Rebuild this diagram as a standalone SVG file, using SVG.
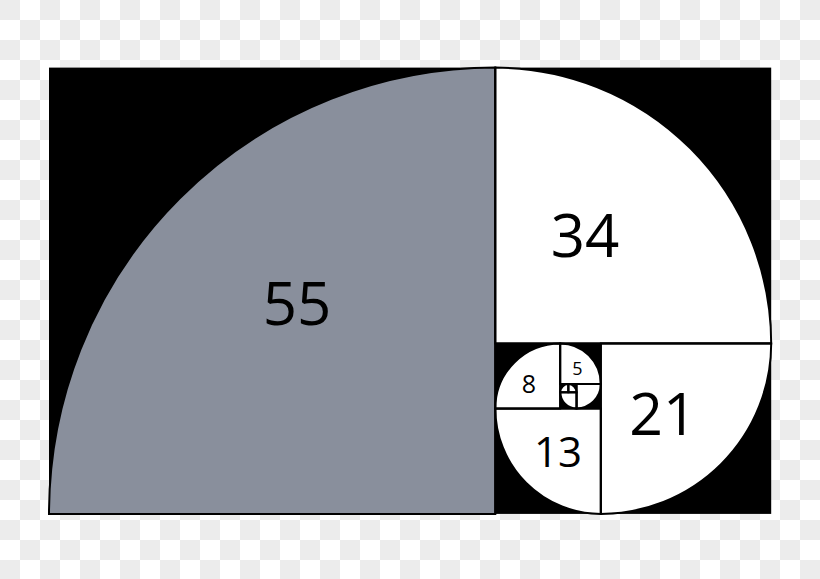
<svg xmlns="http://www.w3.org/2000/svg" width="820" height="579" viewBox="0 0 820 579">
  <defs>
    <pattern id="cb" width="40" height="40" patternUnits="userSpaceOnUse">
      <rect width="40" height="40" fill="#ffffff"/>
      <rect width="20" height="20" fill="#ececec"/>
      <rect x="20" y="20" width="20" height="20" fill="#ececec"/>
    </pattern>
  </defs>
  <style>
    .sec { stroke: #000; stroke-width: 2; }
    .w { fill: #ffffff; }
    .g { fill: #898f9c; }
    .ln { stroke: #000; stroke-width: 2; fill: none; }
    .lbl { font-family: "Open Sans", "Noto Sans", "Liberation Sans", sans-serif; fill: #000; text-anchor: middle; }
  </style>
  <rect width="820" height="579" fill="url(#cb)"/>
  <rect id="frame" x="49" y="67.6" width="722.2" height="446.3" fill="#000"/>

  <g id="sq55">
    <path class="sec g" d="M495.3,513.9 L49,513.9 A446.3,446.3 0 0 1 495.3,67.6 Z"/>
    <text class="lbl" x="297" y="325" font-size="60">55</text>
  </g>
  <g id="sq34">
    <path class="sec w" d="M495.3,343.5 L495.3,67.6 A275.9,275.9 0 0 1 771.2,343.5 Z"/>
    <text class="lbl" x="585" y="257" font-size="60">34</text>
  </g>
  <g id="sq21">
    <path class="sec w" d="M600.8,343.5 L771.2,343.5 A170.4,170.4 0 0 1 600.8,513.9 Z"/>
    <text class="lbl" x="663" y="435" font-size="59">21</text>
  </g>
  <g id="sq13">
    <path class="sec w" d="M600.8,408.4 L600.8,513.9 A105.5,105.5 0 0 1 495.3,408.4 Z"/>
    <text class="lbl" x="558" y="467" font-size="42">13</text>
  </g>
  <g id="sq8">
    <path class="sec w" d="M560.2,408.4 L495.3,408.4 A64.9,64.9 0 0 1 560.2,343.5 Z"/>
    <text class="lbl" x="529" y="393" font-size="25">8</text>
  </g>
  <g id="sq5">
    <path class="sec w" d="M560.2,384.1 L560.2,343.5 A40.6,40.6 0 0 1 600.8,384.1 Z"/>
    <text class="lbl" x="577.5" y="375" font-size="18">5</text>
  </g>
  <g id="sq3">
    <path class="sec w" d="M576.5,384.1 L600.8,384.1 A24.3,24.3 0 0 1 576.5,408.4 Z"/>
  </g>
  <g id="sq2">
    <path class="sec w" d="M576.5,392.2 L576.5,408.4 A16.2,16.2 0 0 1 560.3,392.2 Z"/>
  </g>
  <g id="sq1a">
    <path class="sec w" d="M568.4,392.2 L560.2,392.2 A8.1,8.1 0 0 1 568.4,384.1 Z"/>
  </g>
  <g id="sq1b">
    <path class="sec w" d="M568.4,392.2 L568.4,384.1 A8.1,8.1 0 0 1 576.5,392.2 Z"/>
  </g>

  <g id="connectors">
    <line class="ln" x1="495.3" y1="67.6" x2="495.3" y2="513.9"/>
    <line class="ln" x1="495.3" y1="343.5" x2="771.2" y2="343.5"/>
    <line class="ln" x1="600.8" y1="343.5" x2="600.8" y2="513.9"/>
    <line class="ln" x1="495.3" y1="408.4" x2="600.8" y2="408.4"/>
    <line class="ln" x1="560.2" y1="343.5" x2="560.2" y2="408.4"/>
    <line class="ln" x1="560.2" y1="384.1" x2="600.8" y2="384.1"/>
    <line class="ln" x1="576.5" y1="384.1" x2="576.5" y2="408.4"/>
    <line class="ln" x1="560.2" y1="392.2" x2="576.5" y2="392.2"/>
    <line class="ln" x1="568.4" y1="384.1" x2="568.4" y2="392.2"/>
  </g>
</svg>
